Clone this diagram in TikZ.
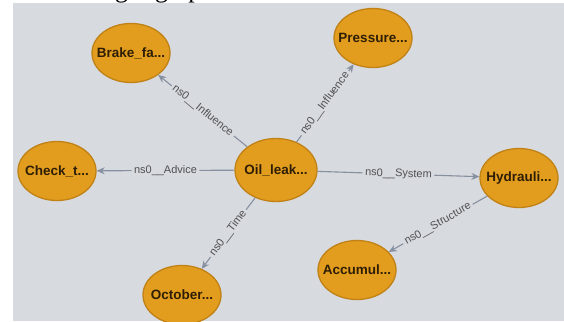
\documentclass[tikz,border=0pt]{standalone}
\usepackage{fontspec}
\setmainfont{Liberation Sans}
\newfontfamily\capfont{Liberation Serif}
\usetikzlibrary{arrows.meta,shapes.geometric}
\definecolor{bggray}{RGB}{215,218,222}
\definecolor{nodefill}{RGB}{227,157,30}
\definecolor{nodeedge}{RGB}{192,130,22}
\definecolor{linkgray}{RGB}{135,144,160}
\definecolor{labgray}{RGB}{80,80,84}
\definecolor{nodetext}{RGB}{45,30,5}
\tikzset{
  ent/.style={ellipse, draw=nodeedge, line width=1.3pt, fill=nodefill,
    minimum width=78pt, minimum height=59pt, inner xsep=-10pt, inner ysep=0pt,
    font=\fontsize{13.5}{15}\selectfont\bfseries, text=nodetext},
  rel/.style={draw=linkgray, line width=1.1pt, -{Stealth[length=8pt,width=7pt]}},
  rlab/.style={sloped, midway, fill=bggray, inner sep=2.5pt, text=labgray,
    font=\fontsize{11}{13}\selectfont}
}
\begin{document}
\begin{tikzpicture}[x=1pt,y=-1pt]
\useasboundingbox (0,0) rectangle (564,321);
\fill[white] (0,0) rectangle (564,321);
\fill[bggray] (13,3) rectangle (564,321);
\begin{scope}
\clip (0,0) rectangle (564,3);
\node[anchor=base west, inner sep=0pt, font=\capfont\fontsize{26}{28}\selectfont] (cap) at (115,-2.6) {ge\hspace{15.5pt}graph};
\end{scope}
\node[ent, minimum width=82pt, minimum height=63pt] (oil) at (276,170) {Oil\_leak...};
\node[ent] (brake) at (131,53) {Brake\_fa...};
\node[ent] (press) at (373,38) {Pressure...};
\node[ent] (check) at (57,171) {Check\_t...};
\node[ent] (hyd) at (519,178) {Hydrauli...};
\node[ent] (oct) at (182,295) {October...};
\node[ent] (acc) at (357,270) {Accumul...};
\draw[rel] (oil) -- node[rlab] {ns0\_\_Influence} (brake);
\draw[rel] (oil) -- node[rlab] {ns0\_\_Influence} (press);
\draw[rel] (oil) -- node[rlab] {ns0\_\_Advice} (check);
\draw[rel] (oil) -- node[rlab] {ns0\_\_System} (hyd);
\draw[rel] (oil) -- node[rlab] {ns0\_\_Time} (oct);
\draw[rel] (hyd) -- node[rlab] {ns0\_\_Structure} (acc);
\end{tikzpicture}
\end{document}
